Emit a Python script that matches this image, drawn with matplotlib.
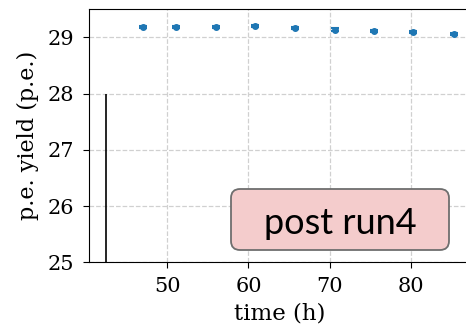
import numpy as np
import matplotlib
matplotlib.use('Agg')
import matplotlib.pyplot as plt
from matplotlib.patches import FancyBboxPatch
from matplotlib.transforms import IdentityTransform

# p.e. yield vs time, post run4
time_h = [47.0, 51.1, 55.95, 60.8, 65.7, 70.6, 75.45, 80.3, 85.3]
pe_yield = [29.18, 29.18, 29.19, 29.2, 29.165, 29.14, 29.12, 29.09, 29.065]
pe_err = [0.02, 0.02, 0.02, 0.02, 0.02, 0.02, 0.02, 0.02, 0.02]
marker_time = 42.52
marker_top = 28.0
xticks = [50, 60, 70, 80]
yticks = [25, 26, 27, 28, 29]

plt.rcParams['font.family'] = 'DejaVu Serif'

fig = plt.figure(figsize=(4.66, 3.26), dpi=100)
ax = fig.add_axes([89/466, 1-262.3/326, 382/466, 253/326])

ax.errorbar(time_h, pe_yield, yerr=pe_err, fmt='o', color='#1f77b4',
            ms=4, capsize=3, elinewidth=1.5, capthick=1.5)
ax.vlines(marker_time, 25, marker_top, color='k', lw=1.2)

ax.set_xlim(40.37, 87.4)
ax.set_ylim(25, 29.5)
ax.set_xticks(xticks)
ax.set_yticks(yticks)
ax.tick_params(labelsize=15, length=4.5, pad=6)
ax.grid(True, ls='--', color='#d0d0d0', lw=0.9)
ax.set_xlabel('time (h)', fontsize=16.5, labelpad=5)
ax.set_ylabel('p.e. yield (p.e.)', fontsize=16, labelpad=6)

# label box (pixel coordinates)
box = FancyBboxPatch((231, 76), 218, 61, boxstyle='round,pad=0,rounding_size=9',
                     transform=IdentityTransform(), fc='#f4cccc', ec='#6e6e6e', lw=1.3)
fig.patches.append(box)
fig.text(340.5/466, 1-223/326, 'post run4', family='Lato', fontsize=26,
         ha='center', va='center')

fig.savefig('out.png', dpi=100)
